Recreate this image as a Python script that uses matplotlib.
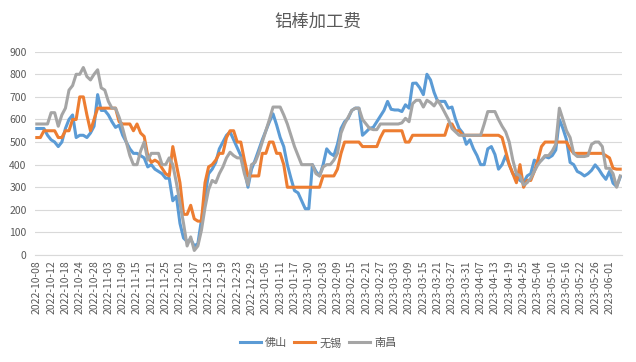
import matplotlib
matplotlib.use("Agg")
import matplotlib.pyplot as plt
import numpy as np

plt.rcParams['font.family'] = ['Noto Sans CJK SC', 'DejaVu Sans']

title = "铝棒加工费"
series_names = ["佛山", "无锡", "南昌"]

tick_labels = [
    "2022-10-08", "2022-10-12", "2022-10-18", "2022-10-24", "2022-10-28",
    "2022-11-03", "2022-11-09", "2022-11-15", "2022-11-21", "2022-11-25",
    "2022-12-01", "2022-12-07", "2022-12-13", "2022-12-19", "2022-12-23",
    "2022-12-29", "2023-01-05", "2023-01-11", "2023-01-17", "2023-01-30",
    "2023-02-03", "2023-02-09", "2023-02-15", "2023-02-21", "2023-02-27",
    "2023-03-03", "2023-03-09", "2023-03-15", "2023-03-21", "2023-03-27",
    "2023-03-31", "2023-04-07", "2023-04-13", "2023-04-19", "2023-04-25",
    "2023-05-04", "2023-05-10", "2023-05-16", "2023-05-22", "2023-05-26",
    "2023-06-01",
]

foshan = [
    560, 560, 560, 530, 510, 500, 480, 500, 560, 600,
    620, 520, 530, 530, 520, 540, 570, 710, 640, 640,
    620, 590, 565, 575, 530, 500, 470, 450, 450, 440,
    430, 390, 400, 380, 370, 360, 340, 340, 240, 260,
    140, 75, 60, 70, 40, 50, 155, 260, 360, 380,
    410, 470, 500, 530, 545, 510, 475, 440, 380, 300,
    380, 420, 465, 510, 550, 590, 625, 576, 520, 480,
    400, 340, 285, 275, 240, 205, 205, 400, 370, 350,
    400, 470, 450, 440, 490, 560, 590, 605, 640, 650,
    650, 530, 545, 561, 565, 590, 615, 640, 680, 645,
    642, 642, 635, 665, 650, 760, 761, 740, 710, 800,
    775, 720, 680, 680, 680, 650, 655, 600, 560, 540,
    490, 510, 470, 440, 400, 400, 470, 480, 445, 380,
    400, 440, 400, 360, 350, 330, 320, 350, 360, 420,
    410, 420, 436, 430, 440, 465, 600, 560, 510, 410,
    400, 370, 362, 350, 360, 375, 399, 380, 355, 335,
    370, 318, 303, 345,
]

wuxi = [
    520, 520, 550, 550, 550, 550, 520, 520, 550, 550,
    600, 600, 700, 700, 620, 550, 600, 650, 650, 650,
    650, 650, 650, 590, 580, 580, 580, 550, 580, 540,
    525, 440, 410, 420, 410, 384, 360, 350, 480, 400,
    320, 180, 180, 220, 160, 150, 150, 320, 390, 400,
    420, 450, 450, 520, 550, 550, 500, 500, 420, 350,
    350, 350, 350, 450, 450, 500, 500, 450, 450, 400,
    300, 300, 300, 300, 300, 300, 300, 300, 300, 300,
    350, 350, 350, 350, 380, 450, 500, 500, 500, 500,
    500, 480, 480, 480, 480, 480, 520, 550, 550, 550,
    550, 550, 550, 500, 500, 530, 530, 530, 530, 530,
    530, 530, 530, 530, 530, 580, 580, 550, 550, 530,
    530, 530, 530, 530, 530, 530, 530, 530, 530, 530,
    520, 460, 400, 360, 320, 400, 300, 330, 330, 370,
    420, 480, 500, 500, 500, 500, 500, 500, 500, 470,
    450, 450, 450, 450, 450, 450, 450, 450, 450, 440,
    430, 384, 380, 380,
]

nanchang = [
    580, 580, 580, 580, 630, 630, 570, 620, 650, 730,
    750, 800, 800, 830, 790, 775, 800, 820, 740, 730,
    680, 650, 650, 610, 560, 500, 440, 400, 400, 460,
    500, 420, 450, 450, 450, 400, 400, 430, 400, 320,
    230, 140, 40, 80, 20, 40, 110, 210, 290, 330,
    320, 360, 390, 430, 455, 440, 430, 430, 360, 310,
    400, 410, 450, 500, 550, 600, 655, 655, 655, 620,
    580, 530, 480, 440, 400, 400, 400, 400, 360, 350,
    390, 400, 400, 420, 450, 540, 580, 610, 640, 650,
    650, 600, 580, 560, 555, 555, 580, 580, 580, 580,
    580, 580, 585, 605, 590, 670, 685, 685, 655, 685,
    675, 660, 685, 660, 630, 600, 560, 545, 530, 530,
    530, 530, 530, 530, 530, 580, 635, 635, 635, 600,
    570, 545, 500, 420, 360, 350, 310, 320, 340, 370,
    400, 420, 440, 440, 460, 490, 650, 600, 550, 520,
    450, 436, 436, 436, 440, 490, 500, 500, 480, 384,
    384, 360, 300, 350,
]

colors = ["#5B9BD5", "#ED7D31", "#A5A5A5"]
text_color = "#595959"

W, H = 636, 362
fig = plt.figure(figsize=(W / 100, H / 100), dpi=100)
ax = fig.add_axes([35 / W, 1 - 255 / H, (622 - 35) / W, (255 - 51.7) / H])

x = np.arange(len(foshan))
for vals, c, name in zip([foshan, wuxi, nanchang], colors, series_names):
    ax.plot(x, vals, color=c, lw=2.2, label=name, solid_joinstyle='round')

ax.set_xlim(-0.5, len(foshan) - 0.5)
ax.set_ylim(0, 900)
ax.set_yticks(np.arange(0, 901, 100))
ax.set_xticks(np.arange(0, 4 * len(tick_labels), 4))
ax.set_xticklabels(tick_labels, rotation=90)
ax.yaxis.grid(True, color="#D9D9D9", lw=0.8)
ax.set_axisbelow(True)
for s in ["left", "right", "top"]:
    ax.spines[s].set_visible(False)
ax.spines["bottom"].set_color("#D9D9D9")
ax.tick_params(axis="both", length=0, labelsize=7.5, labelcolor=text_color)
ax.tick_params(axis="x", pad=4)
ax.tick_params(axis="y", pad=6)

fig.text(0.5, 1 - 22 / H, title, ha="center", va="center", fontsize=12.5, color=text_color)

handles, labels = ax.get_legend_handles_labels()
fig.legend(handles, labels, loc="center", bbox_to_anchor=(0.5, 1 - 343 / H), ncol=3,
           frameon=False, fontsize=8, handlelength=1.9, handletextpad=0.4,
           columnspacing=0.6, labelcolor=text_color)

fig.savefig("out.png", dpi=100)
